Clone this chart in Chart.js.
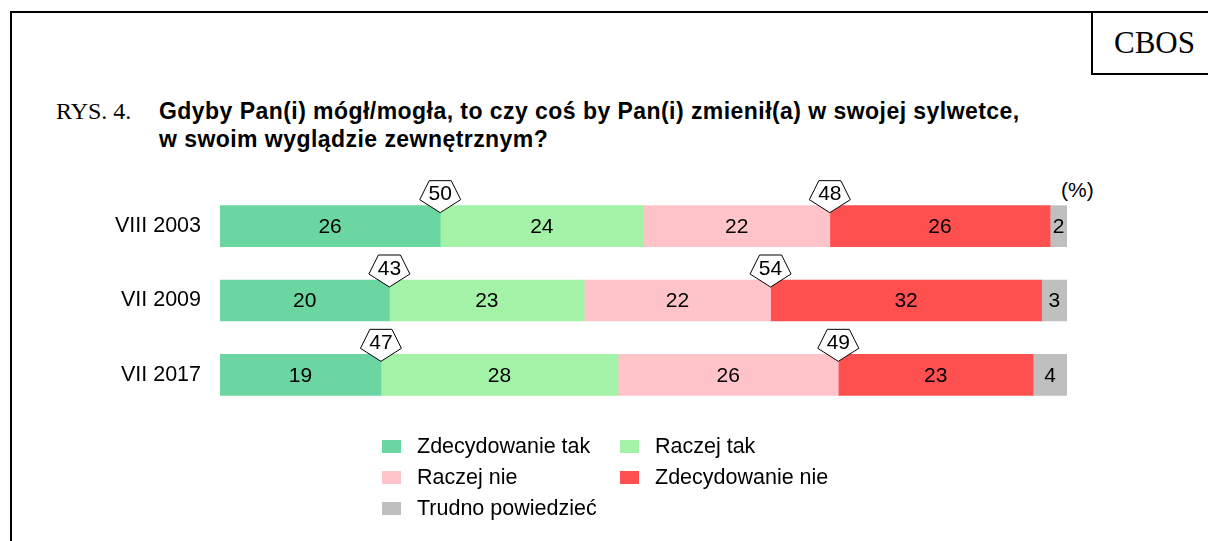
<!DOCTYPE html>
<html lang="pl">
<head>
<meta charset="UTF-8">
<title>RYS. 4. CBOS</title>
<script src="https://cdn.jsdelivr.net/npm/chart.js@4"></script>
<style>
    body {
        margin: 0;
        background: #fff;
        font-family: "Liberation Sans", Arial, sans-serif;
        color: #000;
    }
    .page {
        position: relative;
        width: 1208px;
        height: 541px;
        overflow: hidden;
    }
    .frame {
        position: absolute;
        left: 10px;
        top: 11px;
        width: 1300px;
        height: 700px;
        border-left: 2px solid #000;
        border-top: 2px solid #000;
    }
    .cbos {
        position: absolute;
        left: 1091px;
        top: 11px;
        width: 200px;
        height: 64px;
        border-left: 2px solid #000;
        border-bottom: 2px solid #000;
        font-family: "Liberation Serif", "Times New Roman", serif;
        font-size: 31px;
        line-height: 64px;
        padding-left: 21px;
        box-sizing: border-box;
    }
    .rys {
        position: absolute;
        left: 56px;
        top: 98px;
        font-family: "Liberation Serif", "Times New Roman", serif;
        font-size: 24px;
        line-height: normal;
    }
    .title {
        position: absolute;
        left: 159px;
        top: 97px;
        font-weight: bold;
        font-size: 23px;
        letter-spacing: 0.45px;
        line-height: 28px;
        white-space: nowrap;
    }
    .pct {
        position: absolute;
        left: 1061px;
        top: 178px;
        font-size: 21px;
    }
    canvas {
        position: absolute;
        left: 0;
        top: 0;
    }
    .legend-item {
        position: absolute;
        font-size: 21.5px;
        line-height: 24px;
        white-space: nowrap;
    }
    .legend-item span.box {
        position: absolute;
        left: 0;
        top: 6px;
        width: 19px;
        height: 13px;
    }
    .legend-item span.txt {
        position: absolute;
        left: 35px;
        top: 0;
    }
</style>
</head>
<body>
<div class="page">
    <div class="frame"></div>
    <div class="cbos">CBOS</div>
    <div class="rys">RYS. 4.</div>
    <div class="title">Gdyby Pan(i) mógł/mogła, to czy coś by Pan(i) zmienił(a) w swojej sylwetce,<br>w swoim wyglądzie zewnętrznym?</div>
    <div class="pct">(%)</div>
    <canvas id="chart" width="1208" height="541"></canvas>
    <div id="legend"></div>
</div>

<script>
    // dane z rysunku
    const categories = ['VIII 2003', 'VII 2009', 'VII 2017'];
    const seriesNames = ['Zdecydowanie tak', 'Raczej tak', 'Raczej nie', 'Zdecydowanie nie', 'Trudno powiedzieć'];
    const zdecydowanieTak = [26, 20, 19];
    const raczejTak = [24, 23, 28];
    const raczejNie = [22, 22, 26];
    const zdecydowanieNie = [26, 32, 23];
    const trudnoPowiedziec = [2, 3, 4];
    const sumaTak = [50, 43, 47];
    const sumaNie = [48, 54, 49];

    const colors = ['#6cd6a3', '#a4f2a8', '#ffc4ca', '#ff5050', '#bfbfbf'];
    const seriesData = [zdecydowanieTak, raczejTak, raczejNie, zdecydowanieNie, trudnoPowiedziec];

    // etykiety wartości w środku segmentów + pięciokąty z sumami
    const labelsPlugin = {
        id: 'barLabels',
        afterDatasetsDraw(chart) {
            const ctx = chart.ctx;
            const x = chart.scales.x;
            ctx.save();
            ctx.font = '21px "Liberation Sans", Arial, sans-serif';
            ctx.fillStyle = '#000';
            ctx.textAlign = 'center';
            ctx.textBaseline = 'middle';
            chart.data.datasets.forEach((ds, di) => {
                chart.getDatasetMeta(di).data.forEach((bar, i) => {
                    ctx.fillText(ds.data[i], (bar.x + bar.base) / 2, bar.y + 1);
                });
            });

            // pięciokąty: suma "tak" na granicy pierwszego segmentu, suma "nie" po "raczej nie"
            const meta0 = chart.getDatasetMeta(0);
            categories.forEach((c, i) => {
                const bar = meta0.data[i];
                const top = bar.y - bar.height / 2;
                const posTak = x.getPixelForValue(zdecydowanieTak[i]);
                const posNie = x.getPixelForValue(zdecydowanieTak[i] + raczejTak[i] + raczejNie[i]);
                drawPentagon(ctx, posTak, top + 7, sumaTak[i]);
                drawPentagon(ctx, posNie, top + 7, sumaNie[i]);
            });
            ctx.restore();
        }
    };

    function drawPentagon(ctx, cx, tipY, value) {
        ctx.beginPath();
        ctx.moveTo(cx, tipY);
        ctx.lineTo(cx + 20.5, tipY - 13);
        ctx.lineTo(cx + 11, tipY - 32);
        ctx.lineTo(cx - 11, tipY - 32);
        ctx.lineTo(cx - 20.5, tipY - 13);
        ctx.closePath();
        ctx.fillStyle = '#fff';
        ctx.fill();
        ctx.strokeStyle = '#000';
        ctx.lineWidth = 1;
        ctx.stroke();
        ctx.fillStyle = '#000';
        ctx.fillText(value, cx, tipY - 18);
    }

    const ctx = document.getElementById('chart').getContext('2d');
    const chart = new Chart(ctx, {
        type: 'bar',
        data: {
            labels: categories,
            datasets: seriesNames.map((name, i) => ({
                label: name,
                data: seriesData[i],
                backgroundColor: colors[i],
                borderWidth: 0,
                barThickness: 41
            }))
        },
        options: {
            indexAxis: 'y',
            responsive: false,
            animation: false,
            devicePixelRatio: 1,
            layout: {
                padding: { left: 0, right: 141, top: 189, bottom: 129 }
            },
            plugins: {
                legend: { display: false },
                tooltip: { enabled: false }
            },
            scales: {
                x: {
                    stacked: true,
                    min: 0,
                    max: 100,
                    display: false
                },
                y: {
                    stacked: true,
                    grid: { display: false, drawTicks: false },
                    border: { display: false },
                    ticks: {
                        padding: 19,
                        color: '#000',
                        font: { size: 21.5, family: '"Liberation Sans", Arial, sans-serif' }
                    },
                    afterFit(scale) {
                        scale.width = 220;
                    }
                }
            }
        },
        plugins: [labelsPlugin]
    });

    // legenda w dwóch kolumnach
    const legendPos = [[382, 434], [620, 434], [382, 465], [620, 465], [382, 496]];
    const legend = document.getElementById('legend');
    seriesNames.forEach((name, i) => {
        const item = document.createElement('div');
        item.className = 'legend-item';
        item.style.left = legendPos[i][0] + 'px';
        item.style.top = legendPos[i][1] + 'px';
        item.innerHTML = '<span class="box" style="background:' + colors[i] + '"></span><span class="txt">' + name + '</span>';
        legend.appendChild(item);
    });
</script>
</body>
</html>
